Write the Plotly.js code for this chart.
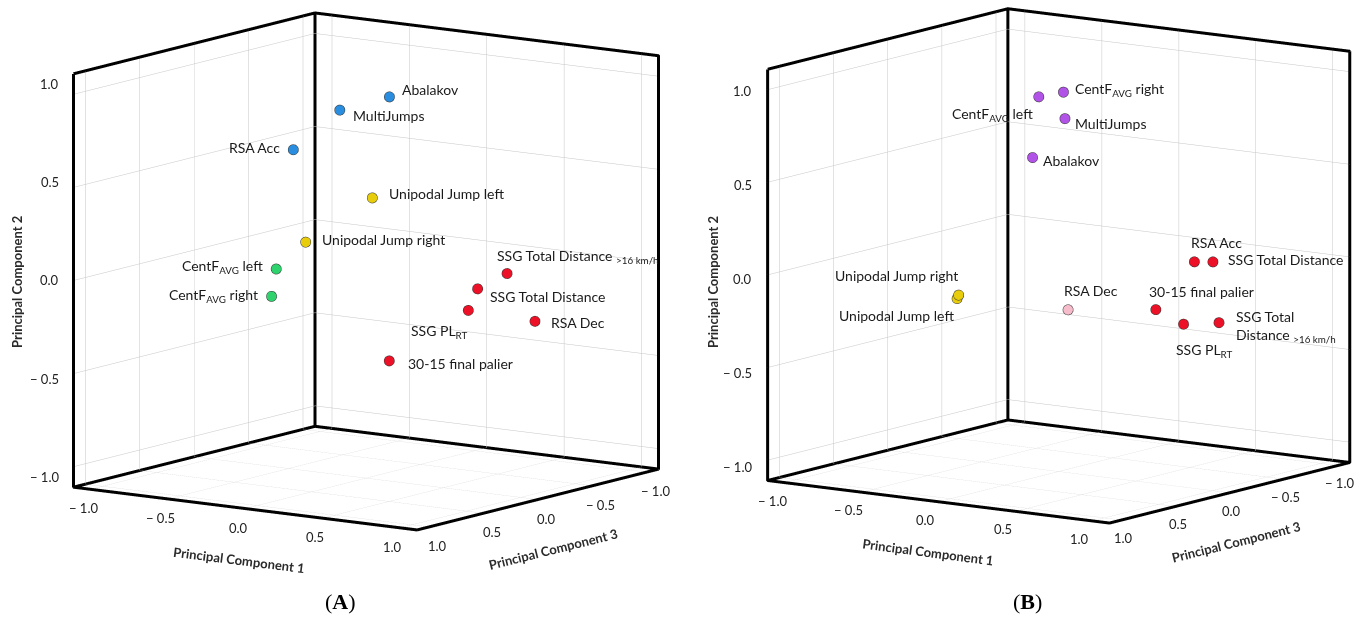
<!DOCTYPE html>
<html>
<head>
<meta charset="utf-8">
<script src="https://cdn.plot.ly/plotly-3.0.1.min.js"></script>
<style>html,body{margin:0;padding:0;background:#fff;}#chart{width:1367px;height:619px;}</style>
</head>
<body>
<div id="chart"></div>
<script>
// ---------- data: panel A ----------
const labelsA = ['Abalakov','MultiJumps','RSA Acc','Unipodal Jump left','Unipodal Jump right',
  'CentF<sub>AVG</sub> left','CentF<sub>AVG</sub> right','SSG Total Distance <sub>&gt;16 km/h</sub>',
  'SSG Total Distance','SSG PL<sub>RT</sub>','RSA Dec','30-15 final palier'];
const pc1A = [0.01,-0.17,-0.33,0.04,-0.32,-0.37,-0.40,0.77,0.65,0.66,0.88,0.29];
const pc2A = [0.91,0.85,0.65,0.40,0.14,0.02,-0.13,0.04,-0.04,-0.14,-0.22,-0.42];
const pc3A = [-0.2,0.0,0.2,0.0,0.1,0.3,0.3,-0.2,-0.1,0.0,-0.3,0.2];
const groupA = ['blue','blue','blue','yellow','yellow','green','green','red','red','red','red','red'];

// ---------- data: panel B ----------
const labelsB = ['CentF<sub>AVG</sub> left','CentF<sub>AVG</sub> right','MultiJumps','Abalakov',
  'Unipodal Jump right','Unipodal Jump left','RSA Dec','RSA Acc','SSG Total Distance',
  '30-15 final palier','SSG PL<sub>RT</sub>','SSG Total<br>Distance <sub>&gt;16 km/h</sub>'];
const pc1B = [-0.13,-0.04,0.04,-0.10,-0.51,-0.52,0.06,0.74,0.79,0.63,0.81,0.97];
const pc2B = [0.90,0.92,0.80,0.59,-0.18,-0.20,-0.23,0.07,0.06,-0.17,-0.23,-0.22];
const pc3B = [0.0,-0.1,0.0,0.1,0.2,0.2,0.0,-0.2,-0.3,0.0,0.0,-0.1];
const groupB = ['purple','purple','purple','purple','yellow','yellow','pink','red','red','red','red','red'];

const tickVals = [-1,-0.5,0,0.5,1];
const tickText = ['\u2212 1.0','\u2212 0.5','0.0','0.5','1.0'];
const axisTitles = {pc1:'Principal Component 1', pc2:'Principal Component 2', pc3:'Principal Component 3'};
const panelTags = ['(<b>A</b>)','(<b>B</b>)'];

// ---------- styles ----------
const R = 1.11;
const groupColors = {blue:'#2a8ee0', yellow:'#e8cd0c', green:'#2fd36e', red:'#ec1127', purple:'#b153e6', pink:'#f7bccb'};
const FONT = 'Lato, "Open Sans", "DejaVu Sans", sans-serif';

// label placement (pixel offsets from marker)
const anchorA = ['left','left','right','left','left','right','right','left','left','right','left','left'];
const dxA = [11,12,-11,15,15,-11,-11,-12,11,2,15,17];
const dyA = [7,-6,2,4,2,2,1,17,-8,-21,-1,-3];
const anchorB = ['right','left','left','left','right','right','left','left','left','left','left','left'];
const dxB = [-3,10,9,9,2,0,-5,-4,14,-8,-9,16];
const dyB = [-18,2,-5,-3,19,-17,19,19,2,18,-26,-4];

// axis-label placement per panel (pixel offsets)
const axStyleA = {pc1dx:-7, pc1dy:-19, pc3dx:9, pc3dy:-19, pc2dx:-12.5, pc2dy0:0, pc2dyK:10,
  t1:[-6,-51,7.2], t3:[16,-49,-14], t2:[-56,-1,-90]};
const axStyleB = {pc1dx:-12, pc1dy:-18, pc3dx:3, pc3dy:-18, pc2dx:-13, pc2dy0:-4, pc2dyK:3,
  t1:[-10,-50,7.5], t3:[7,-49,-14], t2:[-54,-7,-90]};

function frameTrace(scene){
  const lo=-R, hi=R;
  return {type:'scatter3d', mode:'lines', scene:scene, hoverinfo:'skip', showlegend:false,
    x:[hi,hi,hi,lo,lo,lo,hi,null,hi,lo,lo,null,lo,lo],
    y:[lo,lo,hi,hi,hi,lo,lo,null,lo,lo,lo,null,lo,hi],
    z:[hi,lo,lo,lo,hi,hi,hi,null,lo,lo,hi,null,lo,lo],
    line:{color:'#000', width:6}, connectgaps:false};
}
function pointTrace(scene, p1, p2, p3, grp){
  return {type:'scatter3d', mode:'markers', scene:scene, hoverinfo:'skip', showlegend:false,
    x:p3, y:p1, z:p2,
    marker:{size:6, color:grp.map(g=>groupColors[g]), opacity:1, line:{color:'#333', width:1}}};
}
function annos(labels, p1, p2, p3, anchor, dx, dy){
  return labels.map((t,i)=>({x:p3[i], y:p1[i], z:p2[i], text:t, showarrow:false,
    xanchor:anchor[i], yanchor:'middle', xshift:dx[i], yshift:dy[i], align:'left',
    font:{family:FONT, size:14, color:'#1a1a1a'}}));
}
function axisAnnos(s){
  const out = [];
  const tf = {family:FONT, size:13, color:'#222'};
  tickVals.forEach((v,i)=>{
    out.push({x:R, y:v, z:-R, text:tickText[i], showarrow:false, xanchor:'center', yanchor:'middle',
      xshift:s.pc1dx, yshift:s.pc1dy, font:tf});
    out.push({x:v, y:R, z:-R, text:tickText[i], showarrow:false, xanchor:'center', yanchor:'middle',
      xshift:s.pc3dx, yshift:s.pc3dy, font:tf});
    out.push({x:R, y:-R, z:v, text:tickText[i], showarrow:false, xanchor:'right', yanchor:'middle',
      xshift:s.pc2dx, yshift:s.pc2dy0 + s.pc2dyK*v, font:tf});
  });
  const ttf = {family:FONT, size:13, color:'#2b2b2b', weight:'bold'};
  out.push({x:R, y:0, z:-R, text:axisTitles.pc1, showarrow:false, xanchor:'center', yanchor:'middle',
    xshift:s.t1[0], yshift:s.t1[1], textangle:s.t1[2], font:ttf});
  out.push({x:0, y:R, z:-R, text:axisTitles.pc3, showarrow:false, xanchor:'center', yanchor:'middle',
    xshift:s.t3[0], yshift:s.t3[1], textangle:s.t3[2], font:ttf});
  out.push({x:R, y:-R, z:0, text:axisTitles.pc2, showarrow:false, xanchor:'center', yanchor:'middle',
    xshift:s.t2[0], yshift:s.t2[1], textangle:s.t2[2], font:ttf});
  return out;
}
function axis(){
  return {range:[-R,R], autorange:false, tickmode:'array', tickvals:tickVals, ticktext:tickText,
    title:{text:''}, showticklabels:false,
    showbackground:false, showgrid:true, gridcolor:'#c6c6c6', gridwidth:1,
    zeroline:false, showline:false, showspikes:false, ticks:''};
}
const eyeDir = [0.8052,0.5659,0.1771];
const eyeLen = 2.0;
function scene(dom, box, center, annotations){
  return {domain:dom, aspectmode:'manual', aspectratio:{x:box,y:box,z:box},
    xaxis:axis(), yaxis:axis(), zaxis:axis(),
    camera:{eye:{x:center[0]+eyeDir[0]*eyeLen,y:center[1]+eyeDir[1]*eyeLen,z:center[2]+eyeDir[2]*eyeLen},
      center:{x:center[0],y:center[1],z:center[2]}, up:{x:0,y:0,z:1},
      projection:{type:'orthographic'}},
    annotations:annotations, dragmode:false};
}

const data = [frameTrace('scene'), pointTrace('scene',pc1A,pc2A,pc3A,groupA),
              frameTrace('scene2'), pointTrace('scene2',pc1B,pc2B,pc3B,groupB)];
const layout = {width:1367, height:619, margin:{l:0,r:0,t:0,b:0}, paper_bgcolor:'#fff',
  showlegend:false, hovermode:false,
  scene: scene({x:[0,0.5], y:[0,1]}, 1.357, [0.0624,-0.0510,-0.1210],
    annos(labelsA,pc1A,pc2A,pc3A,anchorA,dxA,dyA).concat(axisAnnos(axStyleA))),
  scene2: scene({x:[0.5,1], y:[0,1]}, 1.350, [0.0812,-0.0721,-0.1387],
    annos(labelsB,pc1B,pc2B,pc3B,anchorB,dxB,dyB).concat(axisAnnos(axStyleB))),
  annotations:[
    {xref:'paper', yref:'paper', x:340/1367, y:1-601/619, xanchor:'center', yanchor:'middle',
     text:panelTags[0], showarrow:false, font:{family:'"Liberation Serif", serif', size:22, color:'#000'}},
    {xref:'paper', yref:'paper', x:1027/1367, y:1-601/619, xanchor:'center', yanchor:'middle',
     text:panelTags[1], showarrow:false, font:{family:'"Liberation Serif", serif', size:22, color:'#000'}}
  ]};
Plotly.newPlot('chart', data, layout, {displayModeBar:false, staticPlot:false});
</script>
</body>
</html>
